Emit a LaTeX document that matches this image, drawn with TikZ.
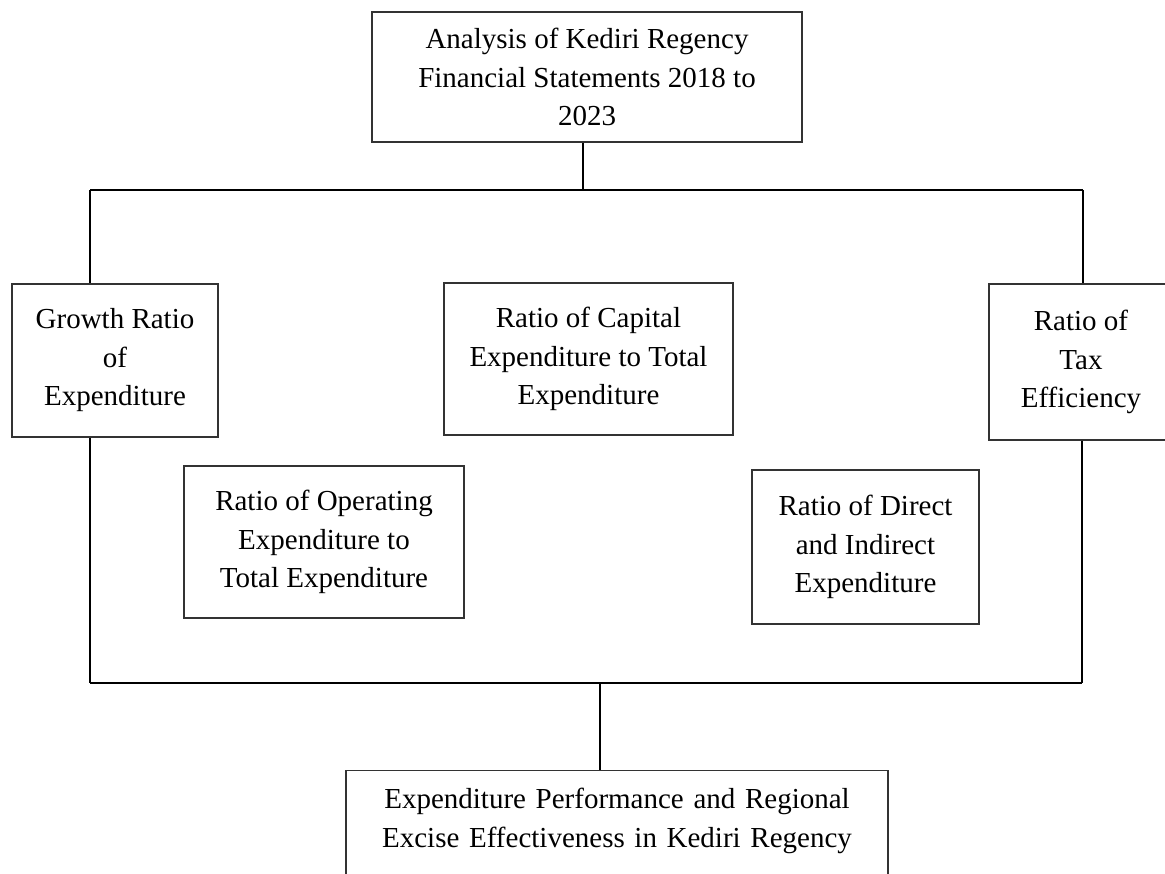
\documentclass[tikz,border=0pt]{standalone}
\usepackage{fontspec}
\setmainfont{Liberation Serif}
\usetikzlibrary{positioning,calc}

\tikzset{
  kdnode/.style={
    draw=black!80, line width=1.2pt, align=center, inner sep=4pt,
    font=\fontsize{29pt}{38.5pt}\selectfont
  },
  kdbox/.style={kdnode, minimum height=153pt},
  kdlink/.style={line width=1.6pt, black}
}

\begin{document}
\begin{tikzpicture}[x=1pt, y=-1pt]
  \useasboundingbox (0,0) rectangle (1165,874);
  \clip (0,0) rectangle (1165,874);
  % source of the analysis
  \node[kdnode, minimum width=430pt, minimum height=130pt] (src) at (587,77)
    {Analysis of Kediri Regency\\Financial Statements 2018 to\\2023};
  % ratios
  \node[kdbox, minimum width=206pt] (growth) at (115,360.5) {Growth Ratio\\of\\Expenditure};
  \node[kdbox, minimum width=289pt, minimum height=152pt] (capital) at (588.5,359)
    {Ratio of Capital\\Expenditure to Total\\Expenditure};
  \node[kdbox, minimum width=184pt, minimum height=156pt] (taxeff) at (1081,362) {Ratio of\\Tax\\Efficiency};
  \node[kdbox, minimum width=280pt, minimum height=152pt] (operating) at (324,542)
    {Ratio of Operating\\Expenditure to\\Total Expenditure};
  \node[kdbox, minimum width=227pt, minimum height=154pt] (direct) at (865.5,547)
    {Ratio of Direct\\and Indirect\\Expenditure};
  % outcome
  \node[kdnode, anchor=north, text width=500pt, minimum width=542pt, text height=34pt, text depth=100pt] (perf) at (617,770)
    {Expenditure Performance and Regional\\Excise Effectiveness in Kediri Regency};
  % bus lines
  \coordinate (busTM) at (583,190);
  \coordinate (busTL) at (90,190);
  \coordinate (busTR) at (1083,190);
  \coordinate (busBL) at (90,683);
  \coordinate (busBR) at (1082,683);
  \coordinate (busBM) at (600,683);
  \draw[kdlink] (busTM |- src.south) -- (busTM);
  \draw[kdlink] (busTL) -- (busTR);
  \draw[kdlink] (busTL) -- (busTL |- growth.north);
  \draw[kdlink] (busTR) -- (busTR |- taxeff.north);
  \draw[kdlink] (busTL |- growth.south) -- (busBL);
  \draw[kdlink] (busBR |- taxeff.south) -- (busBR);
  \draw[kdlink] (busBL) -- (busBR);
  \draw[kdlink] (busBM) -- (busBM |- perf.north);
\end{tikzpicture}
\end{document}
